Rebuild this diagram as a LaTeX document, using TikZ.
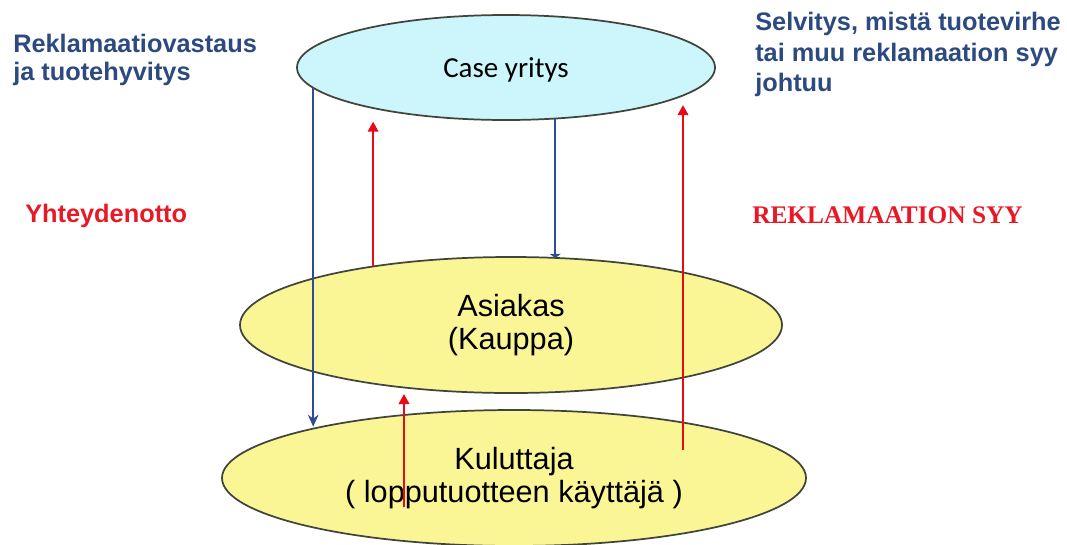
\documentclass[tikz,border=0pt]{standalone}
\usepackage{fontspec}
\setmainfont{Liberation Sans}
\newfontfamily\caseFont{Carlito}
\newfontfamily\capsFont{Liberation Serif}
\usepackage{tikz}
\usetikzlibrary{
  arrows.meta,
  positioning,
  shapes
}
\tikzset{>=stealth}
\definecolor{caseFill}{RGB}{204,246,251}
\definecolor{partyFill}{RGB}{250,246,150}
\definecolor{edgeGray}{RGB}{65,68,58}
\definecolor{noteBlue}{RGB}{44,74,128}
\definecolor{noteRed}{RGB}{232,24,36}
\definecolor{flowBlue}{RGB}{45,78,150}
\definecolor{flowRed}{RGB}{232,10,20}
\tikzset{
  party/.style={ellipse, draw=edgeGray, line width=1.3pt, inner sep=0pt, outer sep=0pt, align=center},
  bluenote/.style={text=noteBlue, font=\bfseries\fontsize{19}{21}\selectfont, align=left, inner sep=0pt},
  rednote/.style={text=noteRed, font=\bfseries\fontsize{19}{21}\selectfont, inner sep=0pt},
  downflow/.style={draw=flowBlue, line width=1.3pt},
  upflow/.style={draw=flowRed, line width=1.2pt, -{Triangle[length=7.5pt,width=8pt]}}
}

\begin{document}
\begin{tikzpicture}[x=0.75pt,y=-0.75pt]
  \useasboundingbox (0,0) rectangle (1067,544);
  % the three parties
  \node[party, fill=caseFill, minimum width=313.5pt, minimum height=78.75pt,
        font=\caseFont\fontsize{21.75}{24}\selectfont, text depth=0pt] (case) at (506,67.5) {Case yritys};
  \node[party, fill=partyFill, minimum width=406.5pt, minimum height=102pt,
        font=\fontsize{23}{24.5}\selectfont] (asia) at (511,325) {Asiakas\\(Kauppa)};
  \node[party, fill=partyFill, minimum width=438pt, minimum height=102pt,
        font=\fontsize{23}{24.5}\selectfont] (kulu) at (514,478) {Kuluttaja\\( lopputuotteen käyttäjä )};
  % notes
  \node[bluenote, anchor=north west] (reply) at (13,34) {Reklamaatiovastaus\\ja tuotehyvitys};
  \node[bluenote, anchor=north west, font=\bfseries\fontsize{19}{23}\selectfont] (cause) at (755,12)
       {Selvitys, mistä tuotevirhe\\tai muu reklamaation syy\\johtuu};
  \node[rednote, anchor=base west] (contact) at (25,222) {Yhteydenotto};
  \node[rednote, anchor=base west, font=\capsFont\bfseries\fontsize{19}{21}\selectfont] (reason) at (752,223) {REKLAMAATION SYY};
  % flows
  \coordinate (lowA) at (404,507);
  \coordinate (lowB) at (683,450);
  \draw[downflow, -{Stealth[length=9pt,width=8pt]}] (case.186.8) -- (case.186.8 |- kulu.165.7);
  \draw[downflow, -{Triangle[length=3pt,width=8pt]}] (case.-46.1) -- (case.-46.1 |- asia.56.7);
  \draw[upflow, shorten >=11pt] (asia.157) -- (asia.157 |- case.196.9);
  \draw[upflow, shorten >=5pt] (lowA) -- (lowA |- asia.210.3);
  \draw[upflow, shorten >=9pt] (lowB) -- (lowB |- case.-8.96);
\end{tikzpicture}
\end{document}
